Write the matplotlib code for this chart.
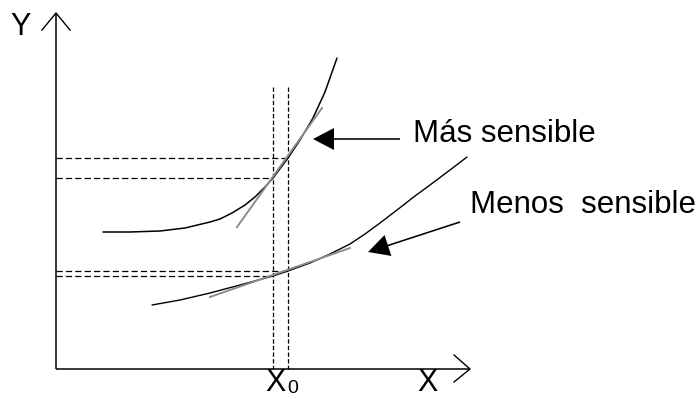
import matplotlib
matplotlib.use("Agg")
import matplotlib.pyplot as plt

plt.rcParams['font.family'] = ['Liberation Sans', 'DejaVu Sans']

# ---- data (pixel-like coordinates of the schematic, y grows downward) ----
upper_x = [103, 130, 160, 185, 210, 220, 232, 245, 255, 265, 273, 288, 300, 313, 325, 337]
upper_y = [232, 232, 231, 228, 222, 219, 213, 205, 197, 187, 178, 158, 140, 118, 92, 58]

lower_x = [152, 180, 210, 240, 273, 288, 310, 330, 350, 365, 380, 397, 415, 430, 450, 467]
lower_y = [305, 300, 293, 285, 276, 271, 263, 254, 244, 234, 223, 210, 196, 185, 170, 157]

upper_tangent_x = [237, 322]
upper_tangent_y = [227, 108]
lower_tangent_x = [210, 350]
lower_tangent_y = [297, 248]

x0_lines = [273, 288]          # vertical dashed guides
v_top = 87
h_levels_upper = [(158, 288), (178, 273)]   # (y, x_end)
h_levels_lower = [(271, 288), (276, 273)]

origin = (56, 369)
y_axis_top = 13
x_axis_right = 470

labels = {
    "mas": ("Más sensible", 413, 142),
    "menos": ("Menos  sensible", 470, 213),
}
arrow_mas = (400, 139, 313, 139)
arrow_menos = (460, 222, 368, 252)

fig = plt.figure(figsize=(6.99, 3.99), dpi=100)
ax = fig.add_axes([0, 0, 1, 1])
ax.set_xlim(0, 699)
ax.set_ylim(399, 0)
ax.axis('off')

# axes
ox, oy = origin
ax.plot([ox, ox], [oy, y_axis_top], color='black', lw=1.1, solid_capstyle='butt')
ax.plot([ox, x_axis_right], [oy, oy], color='black', lw=1.1, solid_capstyle='butt')
# open arrowheads
ax.plot([ox - 14, ox, ox + 14], [y_axis_top + 17, y_axis_top, y_axis_top + 17],
        color='black', lw=1.0)
ax.plot([x_axis_right - 16, x_axis_right, x_axis_right - 16], [oy - 14, oy, oy + 13],
        color='black', lw=1.0)

# dashed guides
dash = (0, (5, 2.5))
for xv in x0_lines:
    ax.plot([xv, xv], [v_top, oy], color='black', lw=0.9, linestyle=(0, (3.5, 1.8)))
for yv, xe in h_levels_upper + h_levels_lower:
    ax.plot([ox, xe], [yv, yv], color='black', lw=0.9, linestyle=dash)

# curves
ax.plot(upper_x, upper_y, color='black', lw=1.1, solid_capstyle='round',
        solid_joinstyle='round')
ax.plot(lower_x, lower_y, color='black', lw=1.0, solid_capstyle='round',
        solid_joinstyle='round')

# tangents
ax.plot(upper_tangent_x, upper_tangent_y, color='#8c8c8c', lw=1.4)
ax.plot(lower_tangent_x, lower_tangent_y, color='#8c8c8c', lw=1.4)

# arrows
for (x1, y1, x2, y2) in [arrow_mas, arrow_menos]:
    ax.arrow(x1, y1, x2 - x1, y2 - y1, width=1.6, head_width=22, head_length=21,
             length_includes_head=True, color='black', lw=0)

# text
for key, (txt, tx, ty) in labels.items():
    ax.text(tx, ty, txt, fontsize=22.5, ha='left', va='baseline', color='black')

ax.text(21, 35, "Y", fontsize=22, ha='center', va='baseline')
ax.text(427, 391, "X", fontsize=22, ha='center', va='baseline')
ax.text(265, 391, "X", fontsize=22, ha='left', va='baseline')
ax.text(287, 393, "0", fontsize=14, ha='left', va='baseline')

fig.savefig("out.png", dpi=100)
